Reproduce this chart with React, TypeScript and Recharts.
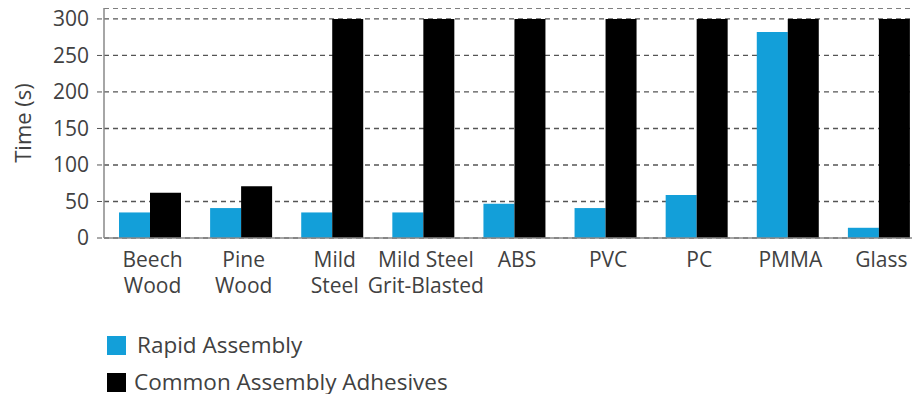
import { Bar, BarChart, CartesianGrid, XAxis, YAxis } from "recharts";

const materials = [
  "Beech\nWood",
  "Pine\nWood",
  "Mild\nSteel",
  "Mild Steel\nGrit-Blasted",
  "ABS",
  "PVC",
  "PC",
  "PMMA",
  "Glass",
];
const rapidAssembly = [35, 41, 35, 35, 47, 41, 59, 282, 14];
const commonAdhesives = [62, 71, 300, 300, 300, 300, 300, 300, 300];
const yTicks = [0, 50, 100, 150, 200, 250, 300];

const series = [
  { key: "rapid", name: "Rapid Assembly", color: "#139fd9" },
  { key: "common", name: "Common Assembly Adhesives", color: "#000000" },
];

const data = materials.map((m, i) => ({
  material: m,
  rapid: rapidAssembly[i],
  common: commonAdhesives[i],
}));

const FONT = "'Open Sans', 'Noto Sans', sans-serif";
const TEXT = "#414141";

const MaterialTick = (props: any) => {
  const { x, y, payload } = props;
  const lines = String(payload.value).split("\n");
  return (
    <text
      x={x + 3}
      y={y}
      textAnchor="middle"
      fill={TEXT}
      fontSize={21}
      fontFamily={FONT}
    >
      {lines.map((l, i) => (
        <tspan key={i} x={x + 3} dy={i === 0 ? 21 : 26}>
          {l}
        </tspan>
      ))}
    </text>
  );
};

const App = () => {
  return (
    <div
      style={{
        position: "relative",
        width: 920,
        height: 402,
        margin: -8,
        overflow: "hidden",
        background: "#fff",
        fontFamily: FONT,
      }}
    >
      {/* plot runs slightly past the right edge, like the original */}
      <BarChart
        width={924}
        height={300}
        data={data}
        margin={{ top: 8, right: 0, left: 0, bottom: 0 }}
        barGap={0}
        barSize={31}
      >
        <CartesianGrid
          vertical={false}
          stroke="#555"
          strokeDasharray="5 4"
          strokeWidth={1.3}
        />
        <XAxis
          dataKey="material"
          height={62}
          tickLine={false}
          axisLine={{ stroke: "#888", strokeWidth: 1.5 }}
          tick={<MaterialTick />}
          interval={0}
        />
        <YAxis
          width={104}
          domain={[0, 315]}
          ticks={yTicks}
          tickSize={7}
          tickMargin={8}
          tickLine={{ stroke: "#555", strokeDasharray: "5 4" }}
          axisLine={{ stroke: "#888", strokeWidth: 1.5 }}
          tick={{ fill: TEXT, fontSize: 21, fontFamily: FONT }}
          label={{
            value: "Time (s)",
            angle: -90,
            position: "center",
            dx: -29,
            fill: TEXT,
            fontSize: 22,
            fontFamily: FONT,
          }}
        />
        {series.map((s) => (
          <Bar
            key={s.key}
            dataKey={s.key}
            name={s.name}
            fill={s.color}
            isAnimationActive={false}
          />
        ))}
      </BarChart>
      {series.map((s, i) => (
        <div
          key={s.key}
          style={{
            position: "absolute",
            left: 107,
            top: 333 + i * 37,
            display: "flex",
            alignItems: "center",
            color: TEXT,
            fontSize: 22.5,
            lineHeight: "24px",
          }}
        >
          <span
            style={{
              display: "inline-block",
              width: 19,
              height: 19,
              background: s.color,
              marginRight: i === 0 ? 11 : 8,
            }}
          />
          {s.name}
        </div>
      ))}
    </div>
  );
};

export default App;
